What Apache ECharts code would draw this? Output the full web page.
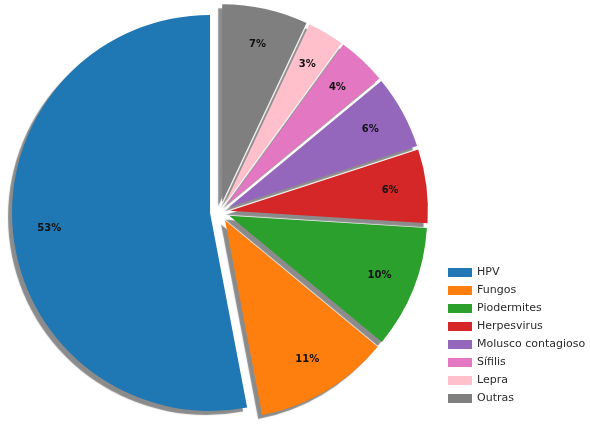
<!DOCTYPE html>
<html>
<head>
<meta charset="utf-8">
<script src="https://cdn.jsdelivr.net/npm/echarts@6/dist/echarts.min.js"></script>
<style>
    html, body { margin: 0; padding: 0; background: #fff; }
    #chart { width: 590px; height: 424px; }
</style>
</head>
<body>
<div id="chart"></div>
<script>
    const names = ['HPV', 'Fungos', 'Piodermites', 'Herpesvirus', 'Molusco contagioso', 'Sífilis', 'Lepra', 'Outras']
    const values = [53, 11, 10, 6, 6, 4, 3, 7]
    const colors = ['#1f77b4', '#ff7f0e', '#2ca02c', '#d62728', '#9467bd', '#e377c2', '#ffc0cb', '#7f7f7f']

    const center = [220, 212]
    const font = 'DejaVu Sans'

    const slices = names.map((name, i) => ({
        name,
        value: values[i],
        selected: true,
        itemStyle: { color: colors[i] }
    }))

    const chart = echarts.init(document.getElementById('chart'))
    const option = {
        animation: false,
        legend: {
            orient: 'vertical',
            left: 443,
            top: 262,
            icon: 'rect',
            itemWidth: 24,
            itemHeight: 9,
            itemGap: 7,
            data: names,
            textStyle: { fontFamily: font, fontSize: 11, color: '#2a2a2a' }
        },
        series: [
            {
                type: 'pie',
                center,
                radius: [0, 198],
                startAngle: 90,
                clockwise: false,
                selectedMode: 'multiple',
                selectedOffset: 10,
                label: { show: false },
                labelLine: { show: false },
                itemStyle: {
                    shadowColor: 'rgba(110,110,110,0.8)',
                    shadowBlur: 1,
                    shadowOffsetX: -4,
                    shadowOffsetY: 4
                },
                data: slices
            },
            {
                // transparent ring, only carries the percentage labels
                type: 'pie',
                center,
                radius: [119, 198],
                startAngle: 90,
                clockwise: false,
                selectedMode: 'multiple',
                selectedOffset: 10,
                silent: true,
                z: 3,
                itemStyle: { color: 'rgba(0,0,0,0)' },
                label: {
                    show: true,
                    position: 'inside',
                    formatter: '{c}%',
                    fontFamily: font,
                    fontWeight: 'bold',
                    fontSize: 10,
                    color: '#111'
                },
                labelLine: { show: false },
                data: names.map((name, i) => ({ name, value: values[i], selected: true }))
            }
        ]
    }
    chart.setOption(option)
</script>
</body>
</html>
